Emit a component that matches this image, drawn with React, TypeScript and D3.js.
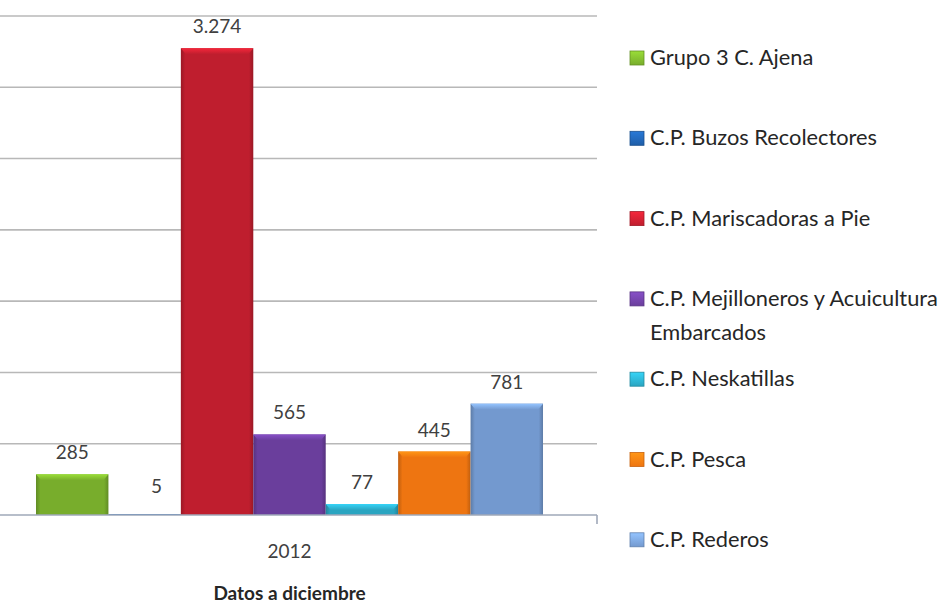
import { useEffect, useRef } from 'react';
import * as d3 from 'd3';

const categories = ['2012'];
const seriesNames = [
  'Grupo 3 C. Ajena',
  'C.P. Buzos Recolectores',
  'C.P. Mariscadoras a Pie',
  'C.P. Mejilloneros y Acuicultura Embarcados',
  'C.P. Neskatillas',
  'C.P. Pesca',
  'C.P. Rederos',
];
const seriesValues = [285, 5, 3274, 565, 77, 445, 781];
const seriesLabels = ['285', '5', '3.274', '565', '77', '445', '781'];
const seriesColors = ['#78ad2c', '#1f5ea8', '#bf1e2e', '#6a3e9c', '#2aa5c1', '#ee7511', '#7399cf'];
const legendLines = [
  ['Grupo 3 C. Ajena'],
  ['C.P. Buzos Recolectores'],
  ['C.P. Mariscadoras a Pie'],
  ['C.P. Mejilloneros y Acuicultura', 'Embarcados'],
  ['C.P. Neskatillas'],
  ['C.P. Pesca'],
  ['C.P. Rederos'],
];
const yTicks = [0, 500, 1000, 1500, 2000, 2500, 3000, 3500];
const axisTitle = 'Datos a diciembre';

const FONT = 'Lato, "Liberation Sans", sans-serif';

const App = () => {
  const svgRef = useRef(null);

  useEffect(() => {
    if (!svgRef.current) return;
    const svg = d3.select(svgRef.current);
    svg.selectAll('*').remove();

    const width = 948;
    const height = 604;
    const plot = { left: -18, right: 597, top: 16, bottom: 515 };

    svg.attr('width', width).attr('height', height);

    const y = d3.scaleLinear().domain([0, 3500]).range([plot.bottom, plot.top]);
    const x0 = d3.scaleBand().domain(categories).range([plot.left, plot.right]).paddingOuter(0.1065).paddingInner(0);
    const x1 = d3.scaleBand().domain(seriesNames).range([0, x0.bandwidth()]);

    // gradients for the bevelled bars
    const defs = svg.append('defs');
    seriesColors.forEach((c, i) => {
      const g = defs.append('linearGradient').attr('id', `bar-${i}`)
        .attr('x1', '0%').attr('x2', '100%').attr('y1', '0%').attr('y2', '0%');
      g.append('stop').attr('offset', '0%').attr('stop-color', d3.color(c).darker(0.6).formatHex());
      g.append('stop').attr('offset', '6%').attr('stop-color', c);
      g.append('stop').attr('offset', '94%').attr('stop-color', c);
      g.append('stop').attr('offset', '100%').attr('stop-color', d3.color(c).darker(0.6).formatHex());
      const t = defs.append('linearGradient').attr('id', `top-${i}`)
        .attr('x1', '0%').attr('x2', '0%').attr('y1', '0%').attr('y2', '100%');
      t.append('stop').attr('offset', '0%').attr('stop-color', d3.color(c).brighter(0.7).formatHex());
      t.append('stop').attr('offset', '100%').attr('stop-color', c);
    });

    // grid lines
    svg.append('g')
      .selectAll('line')
      .data(yTicks.slice(1))
      .enter()
      .append('line')
      .attr('x1', plot.left)
      .attr('x2', plot.right)
      .attr('y1', d => y(d))
      .attr('y2', d => y(d))
      .attr('stroke', '#b8b8b8')
      .attr('stroke-width', 1.6);

    const group = svg.append('g').attr('transform', `translate(${x0(categories[0])},0)`);

    seriesValues.forEach((v, i) => {
      const bx = x1(seriesNames[i]);
      const bw = x1.bandwidth();
      const top = y(v);
      const h = plot.bottom - top;
      group.append('rect')
        .attr('x', bx).attr('y', top).attr('width', bw).attr('height', h)
        .attr('fill', `url(#bar-${i})`);
      const bev = Math.min(6, h);
      group.append('path')
        .attr('d', `M${bx},${top}L${bx + bw},${top}L${bx + bw - 5},${top + bev}L${bx + 5},${top + bev}Z`)
        .attr('fill', `url(#top-${i})`);
      group.append('text')
        .attr('x', bx + bw / 2 + (v < 20 ? 12 : 0))
        .attr('y', v < 20 ? top - 21 : top - 15)
        .attr('text-anchor', 'middle')
        .attr('font-family', FONT)
        .attr('font-size', 19)
        .attr('fill', '#404040')
        .text(seriesLabels[i]);
    });

    // x axis
    svg.append('line')
      .attr('x1', plot.left).attr('x2', plot.right)
      .attr('y1', plot.bottom).attr('y2', plot.bottom)
      .attr('stroke', '#9fa8b8').attr('stroke-width', 1.6);
    svg.append('line')
      .attr('x1', plot.right).attr('x2', plot.right)
      .attr('y1', plot.bottom).attr('y2', plot.bottom + 9)
      .attr('stroke', '#9fa8b8').attr('stroke-width', 1.6);

    svg.append('text')
      .attr('x', x0(categories[0]) + x0.bandwidth() / 2)
      .attr('y', 558)
      .attr('text-anchor', 'middle')
      .attr('font-family', FONT)
      .attr('font-size', 19)
      .attr('fill', '#404040')
      .text(categories[0]);

    svg.append('text')
      .attr('x', x0(categories[0]) + x0.bandwidth() / 2)
      .attr('y', 600)
      .attr('text-anchor', 'middle')
      .attr('font-family', FONT)
      .attr('font-size', 19)
      .attr('font-weight', 'bold')
      .attr('fill', '#262626')
      .text(axisTitle);

    // legend
    const legend = svg.append('g');
    legendLines.forEach((lines, i) => {
      const cy = 58 + i * 80.3;
      legend.append('rect')
        .attr('x', 630).attr('y', cy - 7).attr('width', 14).attr('height', 14)
        .attr('fill', `url(#top-${i})`)
        .attr('stroke', d3.color(seriesColors[i]).darker(0.5).formatHex())
        .attr('stroke-width', 0.8);
      lines.forEach((ln, j) => {
        legend.append('text')
          .attr('x', 650)
          .attr('y', cy + j * 34 + 7)
          .attr('font-family', FONT)
          .attr('font-size', 21.8)
          .attr('fill', '#262626')
          .text(ln);
      });
    });
  }, []);

  return (
    <svg ref={svgRef} style={{ position: 'absolute', left: 0, top: 0, background: '#fff' }} />
  );
};

export default App;
